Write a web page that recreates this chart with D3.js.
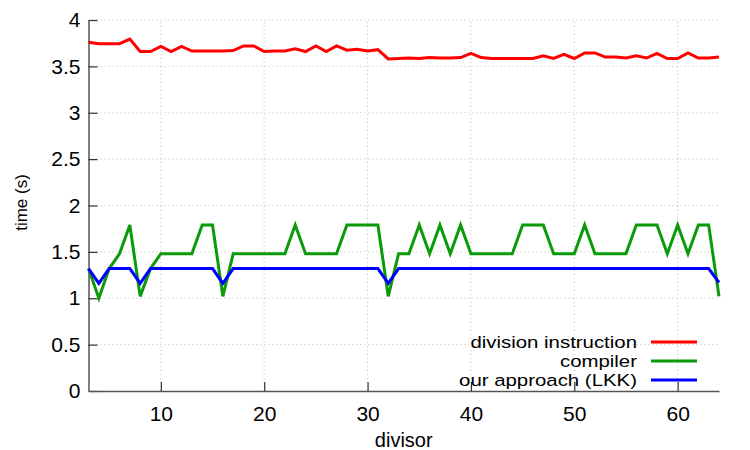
<!DOCTYPE html>
<html>
<head>
<meta charset="utf-8">
<script src="https://cdn.jsdelivr.net/npm/d3@7"></script>
<style>
body { margin: 0; background: #fff; }
text { font-family: "Liberation Sans", Arial, sans-serif; fill: #000; }
</style>
</head>
<body>
<script>
// divisors 3..64
var divisors = [3,4,5,6,7,8,9,10,11,12,13,14,15,16,17,18,19,20,21,22,23,24,25,26,27,28,29,30,31,32,33,
    34,35,36,37,38,39,40,41,42,43,44,45,46,47,48,49,50,51,52,53,54,55,56,57,58,59,60,61,62,63,64];

var divisionInstruction = [3.76,3.745,3.745,3.745,3.795,3.66,3.66,3.715,3.66,3.715,3.665,3.665,3.665,3.665,3.67,
    3.72,3.72,3.66,3.665,3.665,3.69,3.66,3.72,3.66,3.72,3.675,3.685,3.665,3.68,3.58,3.585,
    3.59,3.585,3.595,3.59,3.59,3.595,3.64,3.595,3.585,3.585,3.585,3.585,3.585,3.615,3.585,3.63,3.585,
    3.645,3.645,3.6,3.6,3.59,3.615,3.59,3.64,3.585,3.585,3.645,3.59,3.59,3.6];

var compiler = [1.32,1.0,1.32,1.48,1.79,1.02,1.32,1.48,1.48,1.48,1.48,1.79,1.79,1.02,1.48,
    1.48,1.48,1.48,1.48,1.48,1.79,1.48,1.48,1.48,1.48,1.79,1.79,1.79,1.79,1.02,1.48,
    1.48,1.79,1.48,1.79,1.48,1.79,1.48,1.48,1.48,1.48,1.48,1.79,1.79,1.79,1.48,1.48,1.48,
    1.79,1.48,1.48,1.48,1.48,1.79,1.79,1.79,1.48,1.79,1.48,1.79,1.79,1.02];

var ourApproach = [1.32,1.16,1.32,1.32,1.32,1.16,1.32,1.32,1.32,1.32,1.32,1.32,1.32,1.16,1.32,
    1.32,1.32,1.32,1.32,1.32,1.32,1.32,1.32,1.32,1.32,1.32,1.32,1.32,1.32,1.16,1.32,
    1.32,1.32,1.32,1.32,1.32,1.32,1.32,1.32,1.32,1.32,1.32,1.32,1.32,1.32,1.32,1.32,1.32,
    1.32,1.32,1.32,1.32,1.32,1.32,1.32,1.32,1.32,1.32,1.32,1.32,1.32,1.17];

var xTicks = [10, 20, 30, 40, 50, 60];
var yTicks = [0, 0.5, 1, 1.5, 2, 2.5, 3, 3.5, 4];

var seriesNames = ['division instruction', 'compiler', 'our approach (LKK)'];
var seriesColors = ['#ff0000', '#0a9a0a', '#0000ff'];

var scr = { w: 750, h: 450 };
var plot = { left: 88.5, right: 719, top: 20, bottom: 391 };

var svg = d3.select('body').append('svg')
    .attr('width', scr.w)
    .attr('height', scr.h);

var x = d3.scaleLinear().domain([3, 64]).range([plot.left, plot.right]);
var y = d3.scaleLinear().domain([0, 4]).range([plot.bottom, plot.top]);

// grid
var grid = svg.append('g').attr('class', 'grid');
grid.selectAll('line.h')
    .data(yTicks.filter(function(d) { return d > 0; }))
    .enter().append('line')
    .attr('x1', plot.left).attr('x2', plot.right)
    .attr('y1', function(d) { return y(d); })
    .attr('y2', function(d) { return y(d); })
    .attr('stroke', '#bbb')
    .attr('stroke-dasharray', '1,3');
grid.selectAll('line.v')
    .data(xTicks)
    .enter().append('line')
    .attr('x1', function(d) { return x(d); })
    .attr('x2', function(d) { return x(d); })
    .attr('y1', plot.bottom).attr('y2', plot.top)
    .attr('stroke', '#bbb')
    .attr('stroke-dasharray', '1,3');

// axes
var yAxis = d3.axisLeft(y).tickValues(yTicks).tickSizeInner(-9).tickSizeOuter(0).tickPadding(8)
    .tickFormat(function(d) { return d; });
var xAxis = d3.axisBottom(x).tickValues(xTicks).tickSizeInner(-9).tickSizeOuter(0).tickPadding(15);

var gy = svg.append('g')
    .attr('transform', 'translate(' + plot.left + ',0)')
    .call(yAxis);
var gx = svg.append('g')
    .attr('transform', 'translate(0,' + plot.bottom + ')')
    .call(xAxis);

[gx, gy].forEach(function(g) {
    g.select('.domain').attr('stroke', '#555').attr('stroke-width', 1.5);
    g.selectAll('.tick line').attr('stroke', '#333').attr('stroke-width', 1.2);
    g.selectAll('.tick text').style('font-size', '21px').attr('fill', '#000');
});

// series
var allSeries = [divisionInstruction, compiler, ourApproach];
var line = d3.line()
    .x(function(d, i) { return x(divisors[i]); })
    .y(function(d) { return y(d); });

svg.append('g').selectAll('path')
    .data(allSeries)
    .enter().append('path')
    .attr('d', line)
    .attr('fill', 'none')
    .attr('stroke', function(d, i) { return seriesColors[i]; })
    .attr('stroke-width', 3)
    .attr('stroke-linejoin', 'miter');

// legend
var legend = svg.append('g').attr('transform', 'translate(637,342)');
var items = legend.selectAll('g')
    .data(seriesNames)
    .enter().append('g')
    .attr('transform', function(d, i) { return 'translate(0,' + (i * 19) + ')'; });
items.append('text')
    .attr('text-anchor', 'end')
    .attr('dy', '0.35em')
    .attr('transform', 'scale(1.2,1)')
    .style('font-size', '17px')
    .text(function(d) { return d; });
items.append('line')
    .attr('x1', 14).attr('x2', 60)
    .attr('stroke', function(d, i) { return seriesColors[i]; })
    .attr('stroke-width', 3);

// axis titles
svg.append('text')
    .attr('x', (plot.left + plot.right) / 2)
    .attr('y', 447)
    .attr('text-anchor', 'middle')
    .style('font-size', '20px')
    .text('divisor');
svg.append('text')
    .attr('transform', 'translate(27,' + ((plot.top + plot.bottom) / 2 - 3) + ') rotate(-90)')
    .attr('text-anchor', 'middle')
    .style('font-size', '17px')
    .text('time (s)');
</script>
</body>
</html>
